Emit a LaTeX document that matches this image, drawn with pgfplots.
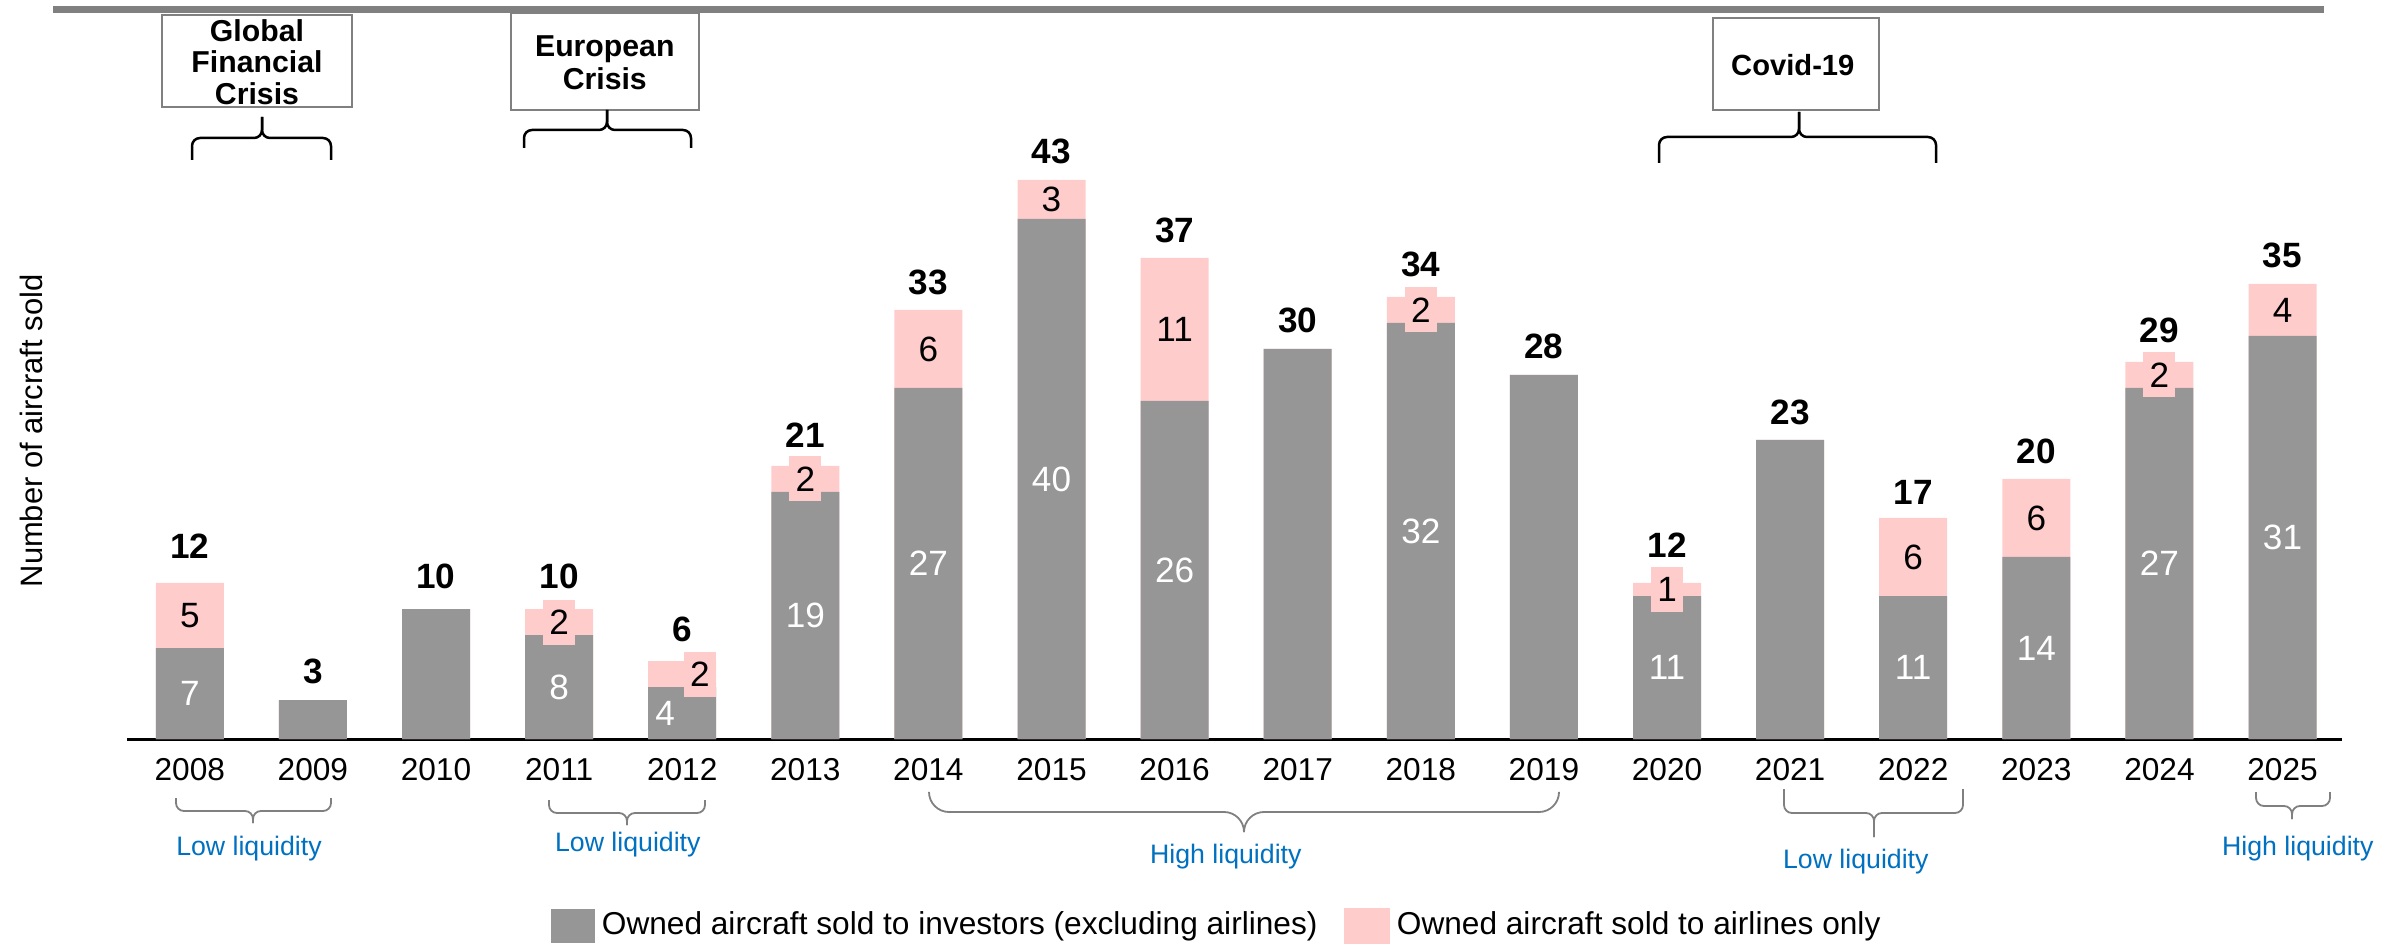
\documentclass[border=0pt]{standalone}
\usepackage{fontspec}
\setmainfont{Liberation Sans}
\usepackage{pgfplots}
\pgfplotsset{compat=1.18}
\usepackage{pgfplotstable}
\definecolor{barGray}{RGB}{150,150,150}
\definecolor{barPink}{RGB}{255,204,204}
\definecolor{liqBlue}{RGB}{0,112,192}
\definecolor{boxGray}{RGB}{128,128,128}
\definecolor{lineGray}{RGB}{128,128,128}

% x = index (0 = 2008), inv = sold to investors, air = sold to airlines, tot = total, gap = label gap (mm)
\pgfplotstableread{
x inv air tot gap
0 7 5 12 2.4
1 3 0 3 1.5
2 10 0 10 1.9
3 8 2 10 1.9
4 4 2 6 1.8
5 19 2 21 1.8
6 27 6 33 1.4
7 40 3 43 1.5
8 26 11 37 1.4
9 30 0 30 1.5
10 32 2 34 1.9
11 28 0 28 1.5
12 11 1 12 2.5
13 23 0 23 1.4
14 11 6 17 1.3
15 14 6 20 1.4
16 27 2 29 1.8
17 31 4 35 1.5
}\data

\begin{document}
\begin{tikzpicture}
\useasboundingbox (-18.98mm,-20.8mm) rectangle (220.72mm,73.9mm);
\begin{axis}[
  anchor=origin, at={(0,0)},
  x=12.31mm, y=1.30mm,
  xmin=-0.51, xmax=17.48, ymin=0, ymax=50,
  axis x line=bottom, axis y line=left,
  x axis line style={-, black, line width=0.3mm},
  y axis line style={draw=none},
  xtick={0,1,...,17},
  xticklabels={2008,2009,2010,2011,2012,2013,2014,2015,2016,2017,2018,2019,2020,2021,2022,2023,2024,2025},
  major tick length=0pt,
  ytick=\empty,
  x tick label style={font=\fontsize{9}{10}\selectfont, inner sep=0pt, anchor=north, yshift=-1.9mm},
  ylabel={Number of aircraft sold},
  every axis y label/.style={at={(axis description cs:-0.0433,0.474)}, rotate=90, anchor=center, font=\fontsize{8.8}{10}\selectfont},
  clip=false,
  legend style={at={(axis description cs:0.1914,-0.2877)}, anchor=west, draw=none, fill=none,
    inner sep=0pt, outer sep=0pt, legend columns=2, font=\fontsize{9}{10}\selectfont,
    /tikz/every even column/.append style={column sep=2.0mm}},
  legend cell align=left,
]
\addplot[ybar, bar width=6.8mm, bar shift=0pt, fill=barPink, draw=none, forget plot]
  table[x=x, y=tot]{\data};
\addplot[ybar, bar width=6.8mm, bar shift=0pt, fill=barGray, draw=none,
  legend image code/.code={\fill[barGray] (0mm,-1.7mm) rectangle (4.4mm,1.7mm);}]
  table[x=x, y=inv]{\data};
\addlegendentry{Owned aircraft sold to investors (excluding airlines)}
\addlegendimage{legend image code/.code={\fill[barPink] (0mm,-1.7mm) rectangle (4.4mm,1.7mm);}}
\addlegendentry{Owned aircraft sold to airlines only}

% totals
\addplot[draw=none, mark=none, forget plot, point meta=explicit symbolic,
  visualization depends on={\thisrow{gap} \as \gap},
  nodes near coords={\pgfplotspointmeta},
  nodes near coords style={anchor=south, inner sep=0pt, font=\bfseries\fontsize{10}{12}\selectfont, yshift=\gap mm}]
  table[x=x, y=tot, meta=tot]{\data};

% investor segment labels
\addplot[draw=none, mark=none, forget plot, point meta=explicit symbolic,
  nodes near coords={\pgfplotspointmeta},
  nodes near coords style={anchor=center, inner sep=0pt, white, font=\fontsize{10}{12}\selectfont}]
  coordinates {(0,3.5)[7] (3,4)[8] (5,9.5)[19] (6,13.5)[27] (7,20)[40] (8,13)[26]
    (10,16)[32] (12,5.5)[11] (14,5.5)[11] (15,7)[14] (16,13.5)[27] (17,15.5)[31]};
\addplot[draw=none, mark=none, forget plot, point meta=explicit symbolic,
  nodes near coords={\pgfplotspointmeta},
  nodes near coords style={anchor=center, inner sep=0pt, white, xshift=-1.7mm, font=\fontsize{10}{12}\selectfont}]
  coordinates {(4,2)[4]};

% airline segment labels (large segments)
\addplot[draw=none, mark=none, forget plot, point meta=explicit symbolic,
  nodes near coords={\pgfplotspointmeta},
  nodes near coords style={anchor=center, inner sep=0pt, black, font=\fontsize{10}{12}\selectfont}]
  coordinates {(0,9.5)[5] (6,30)[6] (7,41.5)[3] (8,31.5)[11] (14,14)[6] (15,17)[6] (17,33)[4]};
% airline segment labels (small segments, boxed)
\addplot[draw=none, mark=none, forget plot, point meta=explicit symbolic,
  nodes near coords={\pgfplotspointmeta},
  nodes near coords style={anchor=center, inner sep=0pt, black, fill=barPink, minimum width=3.2mm, minimum height=4.5mm, font=\fontsize{10}{12}\selectfont}]
  coordinates {(3,9)[2] (5,20)[2] (10,33)[2] (12,11.5)[1] (16,28)[2]};
\addplot[draw=none, mark=none, forget plot, point meta=explicit symbolic,
  nodes near coords={\pgfplotspointmeta},
  nodes near coords style={anchor=center, inner sep=0pt, black, fill=barPink, minimum width=3.2mm, minimum height=4.5mm, xshift=1.76mm, font=\fontsize{10}{12}\selectfont}]
  coordinates {(4,5)[2]};
\end{axis}

\begin{scope}[x=1mm, y=1mm]
% top rule
\draw[lineGray, line width=0.7mm] (-13.68,72.93) -- (213.42,72.93);
% event boxes
\draw[boxGray, line width=0.25mm] (-2.78,72.4) rectangle (16.22,63.2);
\node[align=center, inner sep=0pt, font=\bfseries\fontsize{8.6}{8.9}\selectfont] at (6.72,67.7) {Global\\Financial\\Crisis};
\draw[boxGray, line width=0.25mm] (32.1,72.6) rectangle (50.9,62.9);
\node[align=center, inner sep=0pt, font=\bfseries\fontsize{8.6}{9.4}\selectfont] at (41.5,67.6) {European\\Crisis};
\draw[boxGray, line width=0.25mm] (152.3,72.1) rectangle (168.9,62.9);
\node[align=center, inner sep=0pt, font=\bfseries\fontsize{8.3}{9}\selectfont] at (160.3,67.4) {Covid-19};
% top braces
\begin{scope}[black, line width=0.25mm, rounded corners=0.8mm]
\draw (0.22,57.9) -- (0.22,60.1) -- (7.22,60.1) -- (7.22,62.2);
\draw (14.12,57.9) -- (14.12,60.1) -- (7.22,60.1) -- (7.22,62.2);
\draw (33.42,59.1) -- (33.42,60.9) -- (41.72,60.9) -- (41.72,62.9);
\draw (50.12,59.1) -- (50.12,60.9) -- (41.72,60.9) -- (41.72,62.9);
\draw (146.92,57.6) -- (146.92,60.2) -- (160.92,60.2) -- (160.92,62.7);
\draw (174.62,57.6) -- (174.62,60.2) -- (160.92,60.2) -- (160.92,62.7);
\end{scope}
% bottom braces
\begin{scope}[lineGray, line width=0.18mm, rounded corners=0.8mm]
\draw (-1.38,-5.9) -- (-1.38,-7.2) -- (6.32,-7.2) -- (6.32,-8.4);
\draw (14.12,-5.9) -- (14.12,-7.2) -- (6.32,-7.2) -- (6.32,-8.4);
\draw (35.92,-6.1) -- (35.92,-7.4) -- (43.72,-7.4) -- (43.72,-8.6);
\draw (51.52,-6.1) -- (51.52,-7.4) -- (43.72,-7.4) -- (43.72,-8.6);
\draw (159.42,-5.0) -- (159.42,-7.4) -- (168.42,-7.4) -- (168.42,-9.8);
\draw (177.32,-5.0) -- (177.32,-7.4) -- (168.42,-7.4) -- (168.42,-9.8);
\draw (206.62,-5.3) -- (206.62,-6.7) -- (210.22,-6.7) -- (210.22,-8.0);
\draw (214.02,-5.3) -- (214.02,-6.7) -- (210.22,-6.7) -- (210.22,-8.0);
\end{scope}
\begin{scope}[lineGray, line width=0.18mm, rounded corners=2mm]
\draw (73.92,-5.3) -- (73.92,-7.3) -- (105.42,-7.3) -- (105.42,-9.2);
\draw (136.92,-5.3) -- (136.92,-7.3) -- (105.42,-7.3) -- (105.42,-9.2);
\end{scope}
% liquidity labels
\begin{scope}[liqBlue, font=\fontsize{7.6}{8}\selectfont]
\node[anchor=base, inner sep=0pt] at (5.92,-11.65) {Low liquidity};
\node[anchor=base, inner sep=0pt] at (43.8,-11.25) {Low liquidity};
\node[anchor=base, inner sep=0pt] at (103.6,-12.45) {High liquidity};
\node[anchor=base, inner sep=0pt] at (166.6,-12.95) {Low liquidity};
\node[anchor=base, inner sep=0pt] at (210.8,-11.65) {High liquidity};
\end{scope}
\end{scope}
\end{tikzpicture}
\end{document}
